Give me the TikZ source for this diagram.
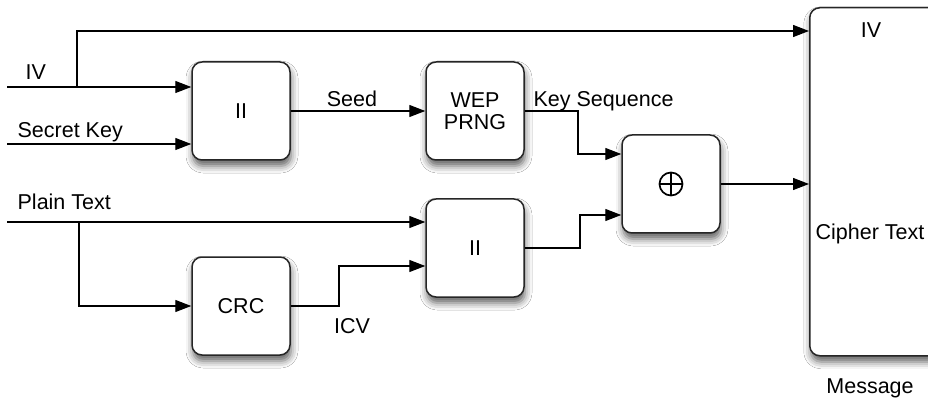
\documentclass[tikz,border=0pt]{standalone}
\usepackage{fontspec}
\setmainfont{Liberation Sans}
\usetikzlibrary{arrows.meta,shadows.blur}

\begin{document}
\begin{tikzpicture}[x=1pt,y=-1pt,
  font=\fontsize{21.5}{25}\selectfont,
  line width=1.3pt,
  block/.style={draw=black!85, fill=white, rounded corners=10pt,
    minimum width=98pt, minimum height=98pt, inner sep=0pt, align=center,
    line width=1.5pt,
    blur shadow={shadow xshift=1pt, shadow yshift=-6pt,
      shadow blur radius=7pt, shadow opacity=62}},
  arr/.style={-{Triangle[length=16pt,width=12pt]}},
  lbl/.style={inner sep=0pt}
]
\clip (0,0) rectangle (928,403);
\fill[white] (0,0) rectangle (928,403);

% processing blocks
\node[block] (ii1) at (241,111) {II};
\node[block] (wep) at (475,111) {WEP\\[-3pt]PRNG};
\node[block] (xor) at (671,184) {};
\node[block] (ii2) at (475,248) {II};
\node[block] (crc) at (241,306) {CRC};
\node[block, minimum width=220pt, minimum height=348pt, anchor=north west] (msg) at (809,7) {};

% the exclusive-or sign inside its block
\begin{scope}[shift={(xor.center)}, line width=1.7pt]
  \draw (0,0) circle (11.5pt);
  \draw (-11.5,0) -- (11.5,0) (0,-11.5) -- (0,11.5);
\end{scope}

% free ends and bend points
\coordinate (ivin) at (7,87);
\coordinate (skin) at (7,144);
\coordinate (ptin) at (7,222);
\coordinate (ivb) at (77,87);
\coordinate (ivt) at (77,31);
\coordinate (ptb) at (79,222);
\coordinate (ks) at (578,154);
\coordinate (icvk) at (339,266);
\coordinate (mx) at (580,215);

% connectors
\draw (ivin) -- (ivb);
\draw[arr] (ivb) -- (ii1.west |- ivb);
\draw[arr] (ivb) -- (ivt) -- (msg.west |- ivt);
\draw[arr] (skin) -- (ii1.west |- skin);
\draw[arr] (ii1.east) -- (wep.west);
\draw[arr] (wep.east) -| (ks) -- (xor.west |- ks);
\draw[arr] (ptin) -- (ii2.west |- ptin);
\draw[arr] (ptb) |- (crc.west);
\draw[arr] (crc.east) -| (icvk) -- (ii2.west |- icvk);
\draw[arr] (ii2.east) -| (mx) -- (xor.west |- mx);
\draw[arr] (xor.east) -- (msg.west |- xor.east);

% labels
\node[lbl, anchor=base west] (livin) at (25,80) {IV};
\node[lbl, anchor=base west] (lsk) at (17,138) {Secret Key};
\node[lbl, anchor=base] (lseed) at (352,107) {Seed};
\node[lbl, anchor=base west] (lks) at (533,107) {Key Sequence};
\node[lbl, anchor=base west] (lpt) at (17,210) {Plain Text};
\node[lbl, anchor=base] (licv) at (352,333) {ICV};
\node[lbl, anchor=base] (livout) at (871,38) {IV};
\node[lbl, anchor=base] (lct) at (870,240) {Cipher Text};
\node[lbl, anchor=base] (lmsg) at (870,393) {Message};
\end{tikzpicture}
\end{document}
